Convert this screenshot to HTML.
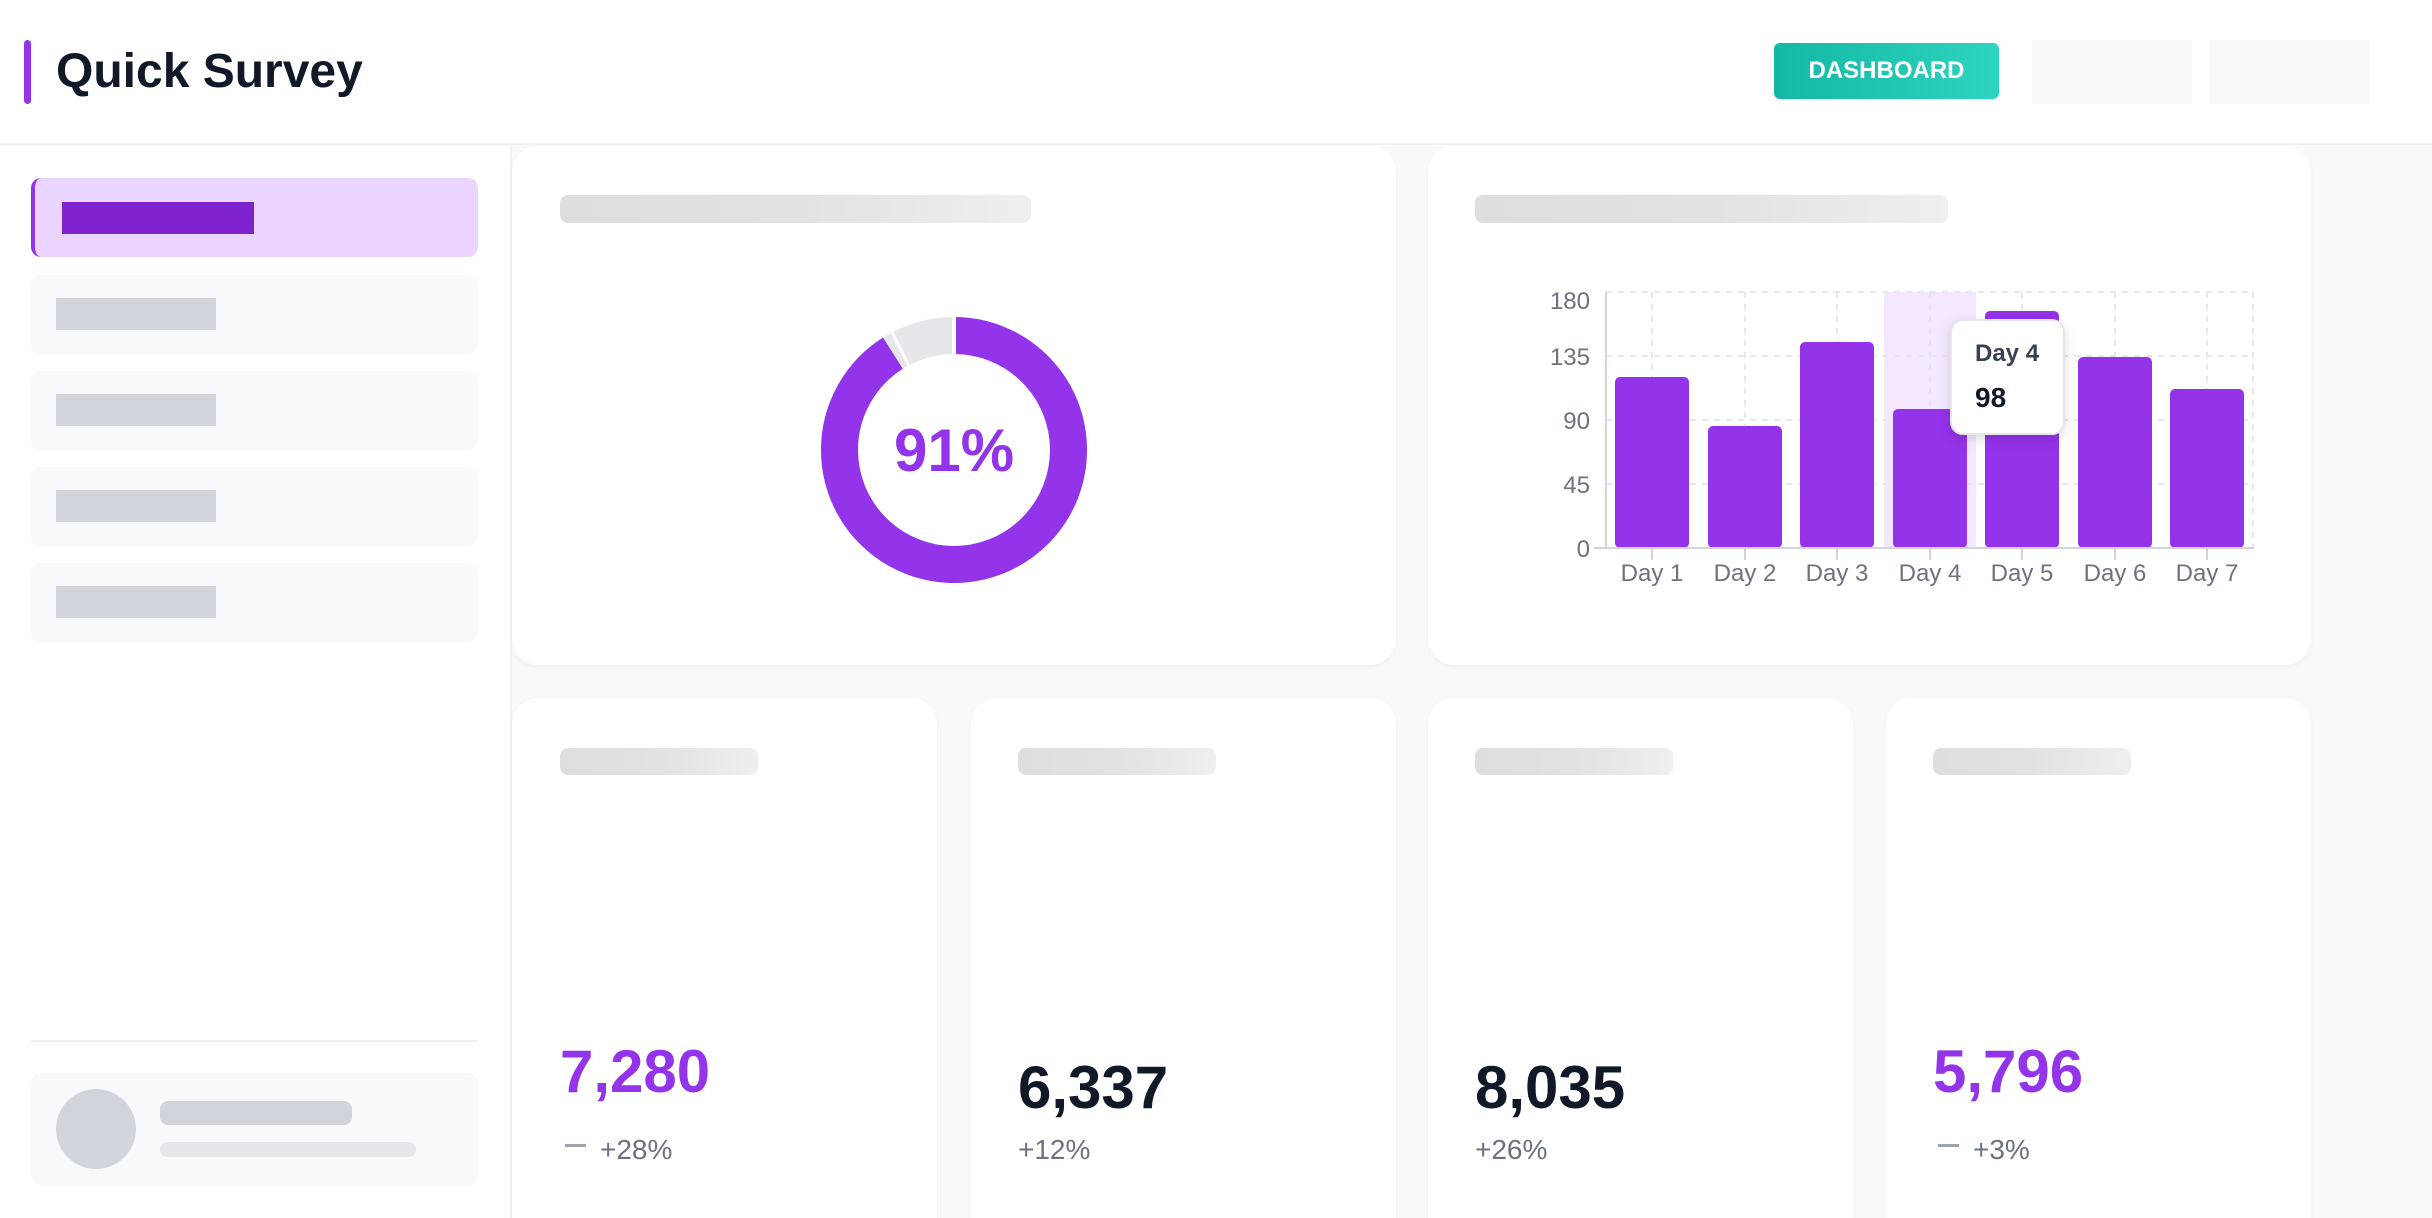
<!DOCTYPE html>
<html style="width:2432px;height:1218px;overflow:hidden"><head><meta charset="utf-8"><style>
*{margin:0;padding:0;box-sizing:border-box}
body{width:2432px;height:1218px;overflow:hidden;background:#f8f9fb;font-family:"Liberation Sans",sans-serif;position:relative}
.a{position:absolute}
.card{position:absolute;background:#fff;border-radius:26px;box-shadow:0 2px 6px rgba(0,0,0,0.04)}
.sk{position:absolute;border-radius:8px;background:linear-gradient(90deg,#dedede 0%,#e2e2e2 50%,#efefef 100%)}
.nav{position:absolute;left:31px;width:447px;height:79px;background:#f8f9fb;border-radius:10px}
.nb{position:absolute;left:25px;top:23px;width:160px;height:32px;background:#d1d5db}
.val{position:absolute;left:560px;font-weight:bold;font-size:60px;line-height:1}
.sub{position:absolute;font-size:28px;color:#6b7280;line-height:1}
</style></head><body>
<div class="a" style="left:0;top:0;width:2432px;height:145px;background:#fff;border-bottom:2px solid #f0f1f3"></div>
<div class="a" style="left:24px;top:40px;width:7px;height:64px;border-radius:4px;background:#9333ea"></div>
<div class="a" style="left:56px;top:44px;font-size:48px;font-weight:bold;color:#111827;line-height:56px">Quick Survey</div>
<div class="a" style="left:1774px;top:43px;width:225px;height:56px;border-radius:6px;background:linear-gradient(90deg,#14b8a6,#2dd4bf);color:#fff;font-weight:bold;font-size:24px;line-height:56px;text-align:center">DASHBOARD</div>
<div class="a" style="left:2032px;top:40px;width:160px;height:64px;background:#f8f9fa"></div>
<div class="a" style="left:2209px;top:40px;width:160px;height:64px;background:#f8f9fa"></div>
<div class="a" style="left:0;top:146px;width:512px;height:1072px;background:#fff;border-right:2px solid #f0f1f3"></div>
<div class="nav" style="top:178px;background:#e9d5ff;border-left:4px solid #9333ea"><div class="a" style="left:27px;top:24px;width:192px;height:32px;background:#7e22ce"></div></div>
<div class="nav" style="top:275px"><div class="nb"></div></div>
<div class="nav" style="top:371px"><div class="nb"></div></div>
<div class="nav" style="top:467px"><div class="nb"></div></div>
<div class="nav" style="top:563px"><div class="nb"></div></div>
<div class="a" style="left:31px;top:1040px;width:447px;height:2px;background:#eef0f2"></div>
<div class="nav" style="top:1073px;height:112px"></div>
<div class="a" style="left:56px;top:1089px;width:80px;height:80px;border-radius:50%;background:#d1d5db"></div>
<div class="a" style="left:160px;top:1101px;width:192px;height:24px;border-radius:8px;background:#d1d5db"></div>
<div class="a" style="left:160px;top:1142px;width:256px;height:15px;border-radius:8px;background:#e5e7eb"></div>

<div class="card" style="left:512px;top:146px;width:884px;height:519px"></div>
<div class="sk" style="left:560px;top:195px;width:471px;height:28px"></div>
<svg class="a" style="left:0;top:0" width="2432" height="1218">
<circle cx="954" cy="450" r="114.5" fill="none" stroke="#e5e7eb" stroke-width="37"/>
<circle cx="954" cy="450" r="114.5" fill="none" stroke="#9333ea" stroke-width="37" stroke-dasharray="654.7 100" transform="rotate(-90 954 450)"/>
<line x1="954" y1="312" x2="954" y2="356" stroke="#fff" stroke-width="4"/>
<line x1="890" y1="328" x2="909" y2="366" stroke="#fff" stroke-width="3"/>
<text x="954" y="471" text-anchor="middle" font-family="Liberation Sans" font-weight="bold" font-size="60" fill="#9333ea">91%</text>
</svg>

<div class="card" style="left:1428px;top:146px;width:883px;height:519px"></div>
<div class="sk" style="left:1475px;top:195px;width:473px;height:28px"></div>
<svg class="a" style="left:0;top:0" width="2432" height="1218" font-family="Liberation Sans">
<rect x="1884" y="292" width="92" height="256" fill="#f3e8ff"/>
<g stroke="#e5e7eb" stroke-width="2" stroke-dasharray="6 6">
<line x1="1606" y1="292" x2="2254" y2="292"/><line x1="1606" y1="356" x2="2254" y2="356"/>
<line x1="1606" y1="420" x2="2254" y2="420"/><line x1="1606" y1="484" x2="2254" y2="484"/>
<line x1="1652" y1="292" x2="1652" y2="548"/><line x1="1745" y1="292" x2="1745" y2="548"/>
<line x1="1837" y1="292" x2="1837" y2="548"/><line x1="1930" y1="292" x2="1930" y2="548"/>
<line x1="2022" y1="292" x2="2022" y2="548"/><line x1="2115" y1="292" x2="2115" y2="548"/>
<line x1="2207" y1="292" x2="2207" y2="548"/><line x1="2253" y1="292" x2="2253" y2="548"/>
</g>
<g fill="#9333ea">
<rect x="1615" y="377" width="74" height="171" rx="5"/>
<rect x="1708" y="426" width="74" height="122" rx="5"/>
<rect x="1800" y="342" width="74" height="206" rx="5"/>
<rect x="1893" y="409" width="74" height="139" rx="5"/>
<rect x="1985" y="311" width="74" height="237" rx="5"/>
<rect x="2078" y="357" width="74" height="191" rx="5"/>
<rect x="2170" y="389" width="74" height="159" rx="5"/>
</g>
<g stroke="#d1d5db" stroke-width="2">
<line x1="1606" y1="292" x2="1606" y2="549"/><line x1="1594" y1="548" x2="2254" y2="548"/>
<line x1="1652" y1="548" x2="1652" y2="560"/><line x1="1745" y1="548" x2="1745" y2="560"/>
<line x1="1837" y1="548" x2="1837" y2="560"/><line x1="1930" y1="548" x2="1930" y2="560"/>
<line x1="2022" y1="548" x2="2022" y2="560"/><line x1="2115" y1="548" x2="2115" y2="560"/>
<line x1="2207" y1="548" x2="2207" y2="560"/>
</g>
<g fill="#6b7280" font-size="24" text-anchor="end">
<text x="1590" y="309">180</text><text x="1590" y="365">135</text><text x="1590" y="429">90</text>
<text x="1590" y="493">45</text><text x="1590" y="557">0</text>
</g>
<g fill="#6b7280" font-size="24" text-anchor="middle">
<text x="1652" y="581">Day 1</text><text x="1745" y="581">Day 2</text><text x="1837" y="581">Day 3</text>
<text x="1930" y="581">Day 4</text><text x="2022" y="581">Day 5</text><text x="2115" y="581">Day 6</text>
<text x="2207" y="581">Day 7</text>
</g>
<rect x="1951" y="320" width="113" height="114" rx="12" fill="#fff" stroke="#e5e7eb" stroke-width="2" style="filter:drop-shadow(0 4px 6px rgba(0,0,0,0.12))"/>
<text x="1975" y="361" font-size="24" font-weight="bold" fill="#374151">Day 4</text>
<text x="1975" y="407" font-size="28" font-weight="bold" fill="#111827">98</text>
</svg>

<div class="card" style="left:512px;top:698px;width:425px;height:560px"></div>
<div class="card" style="left:971px;top:698px;width:425px;height:560px"></div>
<div class="card" style="left:1428px;top:698px;width:425px;height:560px"></div>
<div class="card" style="left:1886px;top:698px;width:425px;height:560px"></div>
<div class="sk" style="left:560px;top:748px;width:198px;height:27px"></div>
<div class="sk" style="left:1018px;top:748px;width:198px;height:27px"></div>
<div class="sk" style="left:1475px;top:748px;width:198px;height:27px"></div>
<div class="sk" style="left:1933px;top:748px;width:198px;height:27px"></div>

<div class="val" style="top:1042px;color:#9333ea">7,280</div>
<div class="a" style="left:565px;top:1144px;width:21px;height:3px;background:#9ca3af"></div>
<div class="sub" style="left:600px;top:1136px">+28%</div>
<div class="val" style="left:1018px;top:1058px;color:#111827">6,337</div>
<div class="sub" style="left:1018px;top:1136px">+12%</div>
<div class="val" style="left:1475px;top:1058px;color:#111827">8,035</div>
<div class="sub" style="left:1475px;top:1136px">+26%</div>
<div class="val" style="left:1933px;top:1042px;color:#9333ea">5,796</div>
<div class="a" style="left:1938px;top:1144px;width:21px;height:3px;background:#9ca3af"></div>
<div class="sub" style="left:1973px;top:1136px">+3%</div>
</body></html>
